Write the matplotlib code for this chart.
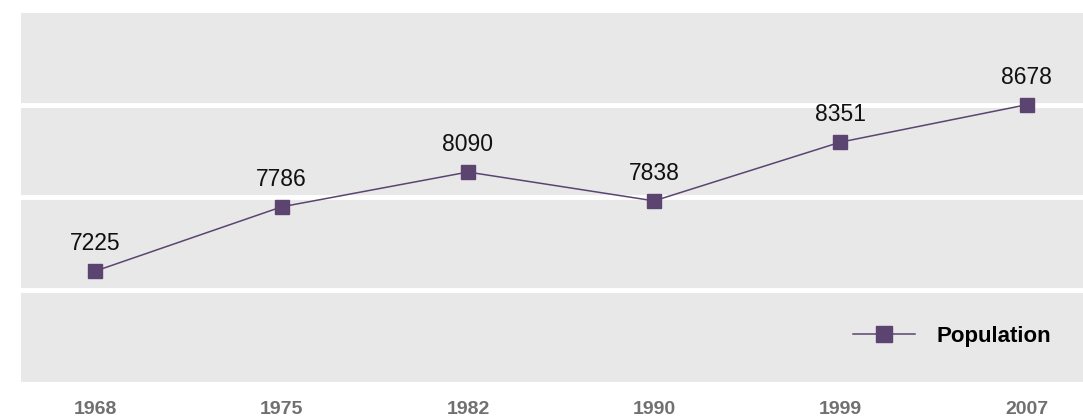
import matplotlib
matplotlib.use("Agg")
import matplotlib.pyplot as plt
import numpy as np

# Data
years = ["1968", "1975", "1982", "1990", "1999", "2007"]
population = [7225, 7786, 8090, 7838, 8351, 8678]

line_color = "#5b4470"
y_min, y_max = 6255, 9480

fig = plt.figure(figsize=(10.83, 4.19), dpi=100)
plt.rcParams["font.family"] = ["Liberation Sans", "DejaVu Sans"]

ax = fig.add_axes([21 / 1083, 37 / 419, 1080 / 1083, 369 / 419])
ax.set_facecolor("#e8e8e8")

x = np.arange(len(years))
ax.plot(x, population, color=line_color, linewidth=1.1, marker="s",
        markersize=10, markerfacecolor=line_color, markeredgecolor=line_color,
        label="Population", zorder=3)

# value labels above each point
for xi, v in zip(x, population):
    ax.annotate(str(v), (xi, v), xytext=(0, 11.5), textcoords="offset points",
                ha="center", va="bottom", fontsize=16.5, color="#111111")

ax.set_xlim(-0.4, len(years) - 0.6)
ax.set_ylim(y_min, y_max)

# white horizontal gridlines splitting the area into four bands
for g in np.linspace(y_min, y_max, 5)[1:-1]:
    ax.axhline(g, color="white", linewidth=3.5, zorder=1)

ax.set_xticks(x)
ax.set_xticklabels(years, fontsize=14, fontweight="bold", color="#707070")
ax.tick_params(axis="x", length=0, pad=13.5)
ax.set_yticks([])
for s in ax.spines.values():
    s.set_visible(False)

leg = ax.legend(loc="lower right", bbox_to_anchor=(1050 / 1080, 15 / 369),
                frameon=False, prop={"size": 16, "weight": "bold"},
                handlelength=2.8, handletextpad=0.95, markerscale=1.1)

fig.savefig("out.png", dpi=100)
